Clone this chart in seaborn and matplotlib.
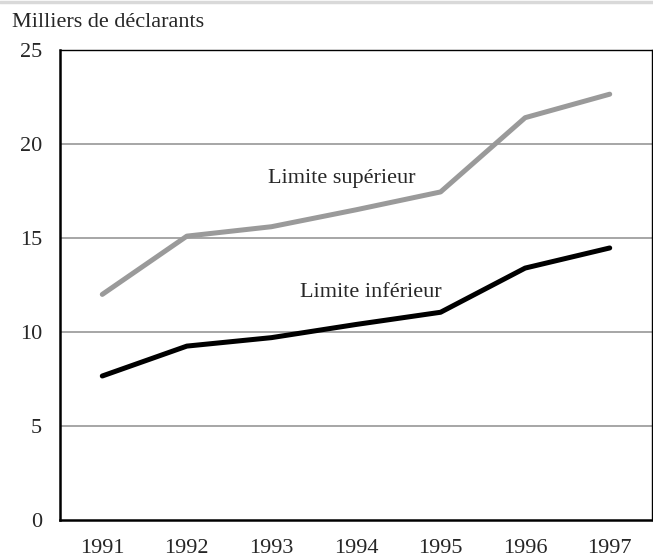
import matplotlib
matplotlib.use("Agg")
import matplotlib.pyplot as plt
import seaborn as sns
import pandas as pd
import numpy as np
from matplotlib.lines import Line2D

years = ["1991", "1992", "1993", "1994", "1995", "1996", "1997"]
sup = [12.0, 15.1, 15.6, 16.5, 17.45, 21.4, 22.65]
inf = [7.66, 9.25, 9.7, 10.4, 11.05, 13.4, 14.47]
yticks = [0, 5, 10, 15, 20, 25]

sns.set_theme(style="white")
plt.rcParams['font.family'] = ['Liberation Serif', 'DejaVu Serif']

FS = 16

fig = plt.figure(figsize=(6.53, 5.59), dpi=100)
ax = fig.add_axes([60/653, 39/559, 592/653, 470/559])

pos = np.arange(len(years))
df = pd.DataFrame({"x": np.concatenate([pos, pos]),
                   "y": sup + inf,
                   "s": ["sup"] * len(years) + ["inf"] * len(years)})
sns.lineplot(data=df, x="x", y="y", hue="s", palette={"sup": "#9a9a9a", "inf": "#000000"},
             linewidth=3.6, legend=False, ax=ax, zorder=3)
for l in ax.lines:
    l.set_solid_capstyle("round")
    l.set_solid_joinstyle("round")

ax.set_xlim(-0.5, len(years) - 0.5)
ax.set_ylim(0, 25)
ax.set_yticks(yticks)
ax.set_yticklabels([str(v) for v in yticks], fontsize=FS)
ax.set_xticks(pos)
ax.set_xticklabels(years, fontsize=FS)
ax.set_xticks(np.arange(0.5, len(years) - 1, 1), minor=True)
ax.tick_params(axis="x", which="major", length=0, pad=14)
ax.tick_params(axis="x", which="minor", length=7, width=1.2, direction="in", color="black")
ax.tick_params(axis="y", which="major", length=0, pad=13)
ax.set_xlabel("")
ax.set_ylabel("")

for v in [5, 10, 15, 20]:
    ax.axhline(v, color="#a6a6a6", linewidth=1.4, zorder=1)

for side in ["left", "bottom"]:
    ax.spines[side].set_linewidth(1.8)
    ax.spines[side].set_color("black")
for side in ["top", "right"]:
    ax.spines[side].set_linewidth(1.0)
    ax.spines[side].set_color("black")

ax.text(2.83, 17.93, "Limite supérieur", fontsize=FS, ha="center", va="baseline")
ax.text(3.18, 11.86, "Limite inférieur", fontsize=FS, ha="center", va="baseline")

fig.text(12/653, 1 - 27/559, "Milliers de déclarants", fontsize=FS, ha="left", va="baseline")
fig.add_artist(Line2D([0, 1], [1 - 2/559, 1 - 2/559], color="#d9d9d9", linewidth=2.5,
                      transform=fig.transFigure))

fig.savefig("out.png", dpi=100)
